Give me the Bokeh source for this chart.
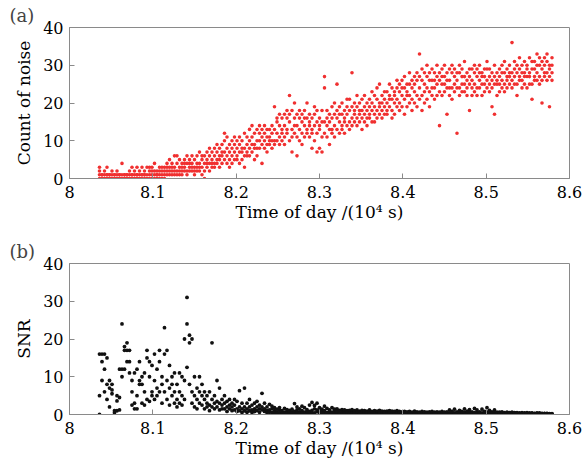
from bokeh.plotting import figure
from bokeh.layouts import column
from bokeh.models import FixedTicker, CustomJSTickFormatter, Range1d
from bokeh.embed import file_html
from bokeh.resources import INLINE

# sample times (10^4 s)
time_1e4s = [
    8.036, 8.039, 8.042, 8.045, 8.048, 8.051, 8.054, 8.057, 8.060, 8.063,
    8.066, 8.069, 8.072, 8.075, 8.078, 8.081, 8.084, 8.087, 8.090, 8.093,
    8.096, 8.099, 8.102, 8.105, 8.108, 8.111, 8.114, 8.117, 8.120, 8.123,
    8.126, 8.129, 8.132, 8.135, 8.138, 8.141, 8.144, 8.147, 8.150, 8.153,
    8.156, 8.159, 8.162, 8.165, 8.168, 8.171, 8.174, 8.177, 8.180, 8.183,
    8.186, 8.189, 8.192, 8.195, 8.198, 8.201, 8.204, 8.207, 8.210, 8.213,
    8.216, 8.219, 8.222, 8.225, 8.228, 8.231, 8.234, 8.237, 8.240, 8.243,
    8.246, 8.249, 8.252, 8.255, 8.258, 8.261, 8.264, 8.267, 8.270, 8.273,
    8.276, 8.279, 8.282, 8.285, 8.288, 8.291, 8.294, 8.297, 8.300, 8.303,
    8.306, 8.309, 8.312, 8.315, 8.318, 8.321, 8.324, 8.327, 8.330, 8.333,
    8.336, 8.339, 8.342, 8.345, 8.348, 8.351, 8.354, 8.357, 8.360, 8.363,
    8.366, 8.369, 8.372, 8.375, 8.378, 8.381, 8.384, 8.387, 8.390, 8.393,
    8.396, 8.399, 8.402, 8.405, 8.408, 8.411, 8.414, 8.417, 8.420, 8.423,
    8.426, 8.429, 8.432, 8.435, 8.438, 8.441, 8.444, 8.447, 8.450, 8.453,
    8.456, 8.459, 8.462, 8.465, 8.468, 8.471, 8.474, 8.477, 8.480, 8.483,
    8.486, 8.489, 8.492, 8.495, 8.498, 8.501, 8.504, 8.507, 8.510, 8.513,
    8.516, 8.519, 8.522, 8.525, 8.528, 8.531, 8.534, 8.537, 8.540, 8.543,
    8.546, 8.549, 8.552, 8.555, 8.558, 8.561, 8.564, 8.567, 8.570, 8.573,
    8.576, 8.579,
]

# noise counts at each sample time (several readings per time)
noise_count = [
    [0,1,3,2],[0,1,1,0],[1,0,2,0],[0,1,3,1],[0,1,0,1],[1,0,0,2],[0,1,0,1],[1,0,2,0],[0,1,0,1],[0,1,4,0],
    [1,0,1,0],[0,1,0,1],[1,0,2,0],[0,1,3,1],[0,1,0,2],[1,0,3,1],[0,1,2,0],[1,0,3,1],[0,1,2,1],[0,1,3,0],
    [1,0,2,3],[1,2,0,3],[0,1,2,4],[1,2,0,1],[0,1,2,3],[1,2,3,0],[1,2,0,3],[2,1,3,4],[1,2,3,5],[2,1,4,3],
    [2,3,6,1],[1,2,4,6],[3,2,5,1],[2,4,1,3],[3,2,5,4],[2,4,1,6],[3,5,2,4],[4,2,6,3],[1,3,5,2],[3,6,4,2],
    [2,4,7,3],[5,3,1,6],[0,4,2,6],[3,5,7,4],[4,6,2,8],[5,3,7,4],[6,4,8,3],[5,7,9,4],[3,6,8,5],[6,4,9,7],
    [5,7,10,12],[4,8,6,11],[7,5,9,3],[8,6,10,4],[5,9,7,11],[6,8,10,5],[9,7,4,11],[7,10,8,5],[3,8,6,12],[9,7,11,6],
    [8,10,6,13],[7,11,9,14],[9,5,12,8],[10,8,13,6],[8,12,10,14],[4,9,11,13],[10,12,8,14],[9,13,11,7],[11,9,13,10],[12,8,10,14],
    [10,13,19,9],[12,15,10,16],[9,14,11,17],[13,10,16,12],[14,17,11,9],[12,16,18,13],[10,15,22,17],[13,18,11,7],[16,12,20,14],[6,14,17,11],
    [13,16,10,18],[15,12,17,9],[14,18,11,16],[12,16,20,13],[15,11,17,14],[8,13,16,12],[14,17,10,19],[7,12,15,18],[13,16,8,14],[11,15,18,7],
    [27,24,15,12],[14,18,11,16],[9,15,17,13],[16,13,19,12],[14,20,17,11],[25,16,13,18],[15,19,12,17],[17,14,20,13],[16,18,12,15],[14,19,17,21],
    [18,15,21,13],[16,28,19,14],[17,20,15,18],[19,16,22,14],[15,18,20,17],[18,21,16,13],[17,19,22,15],[20,16,18,14],[16,21,19,17],[18,15,20,23],
    [19,22,17,15],[21,18,24,16],[17,20,25,19],[22,18,16,20],[19,23,21,17],[20,17,23,18],[22,19,25,21],[18,21,24,16],[23,20,17,22],[21,24,19,26],
    [20,23,18,25],[22,26,19,24],[24,21,27,17],[19,23,25,22],[25,22,28,20],[21,24,18,26],[23,27,20,25],[26,22,28,19],[33,24,21,27],[22,26,29,18],
    [25,23,28,20],[27,24,21,30],[23,26,19,28],[26,22,29,24],[24,28,21,26],[22,25,30,27],[14,26,23,28],[25,29,22,27],[27,23,30,25],[17,24,28,26],
    [26,22,29,24],[24,28,21,30],[27,25,23,29],[12,26,24,28],[28,24,30,22],[25,29,23,27],[23,27,31,25],[26,22,28,24],[18,25,29,27],[29,24,26,22],
    [25,28,23,30],[27,24,29,22],[24,30,26,28],[28,25,22,27],[23,27,29,25],[26,29,24,31],[29,25,27,23],[19,26,28,24],[17,27,25,30],[25,28,22,26],
    [27,23,29,25],[24,30,26,28],[28,25,31,23],[26,29,24,27],[30,27,25,28],[36,28,26,24],[27,31,25,29],[25,28,22,30],[29,26,32,27],[26,30,24,28],
    [28,25,31,27],[30,27,24,29],[27,32,28,25],[25,29,21,31],[31,27,29,26],[28,33,26,30],[27,30,25,32],[29,26,31,20],[32,28,30,27],[26,31,28,33],
    [30,27,19,29],[28,32,26,30],
]

# SNR at each sample time
snr = [
    [0,5,16],[14,16,9],[16,12,6],[15,8,4],[7,9,2],[5.5,8,6.5],[0,1,0.5],[5,3.6,1],[12,1.2,4.5],[12,10,24],
    [18,17,12],[19,17,14],[17,14,11],[6,9,2.5],[3,11,1.5],[12,5,1.5],[9,8,14],[8,3,10],[11,2.5,6],[17,15,4],
    [10,3.5,14],[13,6,5],[16,4,9],[7,12,5],[14,17,6],[10,3,8],[23,16,6],[17,9,4],[13,7,2.5],[10,5,8],
    [6,3,11],[8,4,2],[11,6,3],[10,2.5,5],[20,9,4],[31,24,12.5],[21,19,8],[20,6,3],[10,5,2],[7,4,1.5],
    [10,3,6],[5,2.5,8],[4,1.5,6],[3,5,2],[6,2.5,1],[19,4,2],[5,3,1.5],[9,2,3.5],[7,3,1.2],[2.5,4,1.5],
    [3,1.5,5],[2,3.5,0.8],[4,1.5,2.5],[1,3,2],[2.5,1.2,4],[1.5,3.5,0.8],[6.3,2,1],[3,1.5,0.5],[7,2,1],[1.5,3,0.6],
    [2,1,4],[1.2,2.5,0.5],[3,1.5,0.8],[2,1,3.5],[1.5,0.6,2.5],[5.6,1.2,2],[3,0.8,1.5],[1,2,0.4],[2.7,1.2,0.6],[1.5,0.5,2.2],
    [1,0.4,1.8],[0.6,1.4,0.3],[1.2,0.5,1.8],[0.4,1,0.2],[1.6,0.6,0.3],[0.8,0.3,1.3],[0.5,1.1,0.2],[1.4,0.6,0.3],[2.9,0.8,0.4],[1.2,0.5,2],
    [0.7,1.5,0.3],[1,0.4,2.2],[0.6,1.8,0.3],[1.3,0.5,0.9],[2.5,0.8,0.3],[3.2,1.1,0.5],[1.5,2.4,0.4],[3,0.7,1.2],[1.8,0.5,1],[0.8,1.4,0.3],
    [2.2,0.6,1],[0.5,1.6,0.3],[1.2,0.4,0.8],[1.8,0.6,0.3],[0.9,1.4,0.2],[1.5,0.5,0.8],[0.4,1.1,0.2],[1.3,0.6,0.3],[0.8,1.2,0.2],[1,0.4,0.7],
    [0.6,1.1,0.2],[0.9,0.3,1.3],[0.5,1,0.2],[1.2,0.4,0.7],[0.3,0.9,0.1],[0.8,0.4,1.1],[0.5,1,0.2],[0.9,0.3,0.6],[1.2,0.5,0.2],[0.4,0.8,0.1],
    [0.7,1,0.3],[0.4,0.9,0.1],[1.1,0.5,0.2],[0.6,0.3,0.9],[0.2,0.8,0.5],[0.9,0.4,0.1],[0.5,1,0.2],[0.7,0.3,0.9],[0.4,0.8,0.1],[1,0.5,0.2],
    [0.6,0.2,0.8],[0.3,0.7,0.1],[0.8,0.4,0.2],[0.5,0.1,0.7],[0.3,0.8,0.2],[0.6,0.3,0.1],[0.9,0.4,0.2],[0.5,0.7,0.1],[0.3,0.6,0.2],[0.8,0.4,0.1],
    [0.5,0.2,0.7],[0.3,0.6,0.1],[0.7,0.4,0.2],[0.4,0.8,0.1],[0.6,0.3,0.2],[0.5,0.7,0.1],[0.3,0.6,0.2],[0.8,0.4,0.1],[0.5,0.2,0.6],[0.3,0.7,0.1],
    [1.2,0.4,0.2],[0.6,0.3,0.8],[0.4,1.4,0.1],[0.7,0.3,0.2],[1.1,0.5,0.1],[0.4,0.8,0.2],[1.5,0.3,0.6],[0.5,0.2,0.9],[1.3,0.6,0.1],[0.4,0.7,0.2],
    [1.6,0.5,0.2],[0.6,1.2,0.1],[0.3,0.7,0.2],[1.4,0.4,0.1],[0.5,0.8,0.2],[1.8,0.6,0.3],[0.4,1.1,0.1],[0.7,0.3,0.2],[1.2,0.5,0.1],[0.4,0.6,0.2],
    [0.6,0.3,0.1],[0.4,0.7,0.2],[0.5,0.2,0.1],[0.3,0.6,0.1],[0.5,0.2,0.4],[0.3,0.6,0.1],[0.4,0.2,0.5],[0.2,0.5,0.1],[0.4,0.3,0.1],[0.2,0.5,0.1],
    [0.4,0.2,0.3],[0.3,0.1,0.5],[0.2,0.4,0.1],[0.4,0.2,0.3],[0.1,0.3,0.2],[0.3,0.1,0.4],[0.2,0.4,0.1],[0.3,0.1,0.2],[0.1,0.3,0.2],[0.2,0.1,0.3],
    [0.1,0.2,0.1],[0.2,0.1,0.0],
]

x_ticks = [8.0, 8.1, 8.2, 8.3, 8.4, 8.5, 8.6]
y_ticks = [0, 10, 20, 30, 40]

FONT = "DejaVu Serif"
GRAY = "#8a8a8a"


def flatten(times, rows):
    xs, ys = [], []
    for t, vals in zip(times, rows):
        for v in vals:
            xs.append(t)
            ys.append(v)
    return xs, ys


def make_fig(tag, ylabel, height, top, bottom):
    p = figure(width=586, height=height, output_backend="svg", toolbar_location=None,
               x_range=Range1d(8.0, 8.6), y_range=Range1d(0, 40),
               min_border_left=69, min_border_right=17,
               min_border_top=top, min_border_bottom=bottom)
    p.title.text = tag
    p.title.text_font = FONT
    p.title.text_font_size = "18px"
    p.title.text_font_style = "normal"
    p.title.align = "left"
    p.title.offset = -60
    p.title.standoff = 3
    p.xgrid.visible = False
    p.ygrid.visible = False
    p.outline_line_color = GRAY
    p.outline_line_width = 1
    p.background_fill_color = "white"
    p.border_fill_color = "white"
    p.xaxis.ticker = FixedTicker(ticks=x_ticks)
    p.yaxis.ticker = FixedTicker(ticks=y_ticks)
    p.xaxis.formatter = CustomJSTickFormatter(code="return String(Number(tick.toFixed(1)));")
    p.yaxis.formatter = CustomJSTickFormatter(code="return String(Math.round(tick));")
    for ax in (p.xaxis[0], p.yaxis[0]):
        ax.axis_line_color = GRAY
        ax.major_tick_line_color = GRAY
        ax.major_tick_in = 5
        ax.major_tick_out = 0
        ax.minor_tick_in = 0
        ax.minor_tick_out = 0
        ax.major_label_text_font = FONT
        ax.major_label_text_font_size = "16px"
        ax.major_label_text_color = "black"
        ax.axis_label_text_font = FONT
        ax.axis_label_text_font_size = "17px"
        ax.axis_label_text_font_style = "normal"
        ax.axis_label_text_color = "black"
    p.xaxis.axis_label = "Time of day /(10\u2074 s)"
    p.yaxis.axis_label = ylabel
    p.xaxis.major_label_standoff = 7
    p.xaxis.axis_label_standoff = 1
    p.yaxis.major_label_standoff = 6
    p.yaxis.axis_label_standoff = 6
    return p


p1 = make_fig("(a)", "Count of noise", 232, 27, 54)
xa, ya = flatten(time_1e4s, noise_count)
p1.scatter(xa, ya, size=3.6, color="#f03030", line_width=0)

p2 = make_fig("(b)", "SNR", 232, 31, 50)
xb, yb = flatten(time_1e4s, snr)
p2.scatter(xb, yb, size=3.8, color="#111111", line_width=0)

layout = column(p1, p2, spacing=0)
open("out.html", "w").write(file_html(layout, INLINE))
